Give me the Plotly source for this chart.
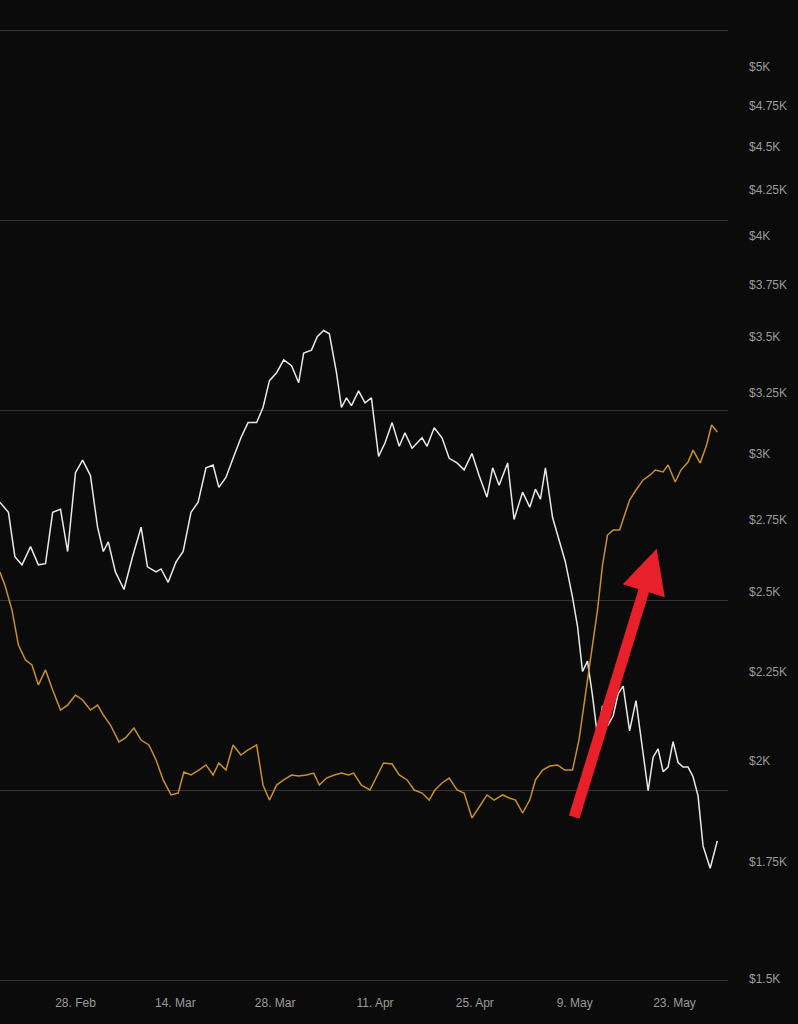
import plotly.graph_objects as go
import pandas as pd
import numpy as np

price = [2813,2776,2618,2590,2653,2590,2594,2776,2787,2636,2925,2974,2914,2722,2636,2670,2566,2507,2618,2722,
 2583,2566,2576,2531,2600,2636,2776,2813,2944,2955,2869,2907,2981,3063,3125,3125,3188,3303,3338,3395,
 3369,3294,3426,3439,3500,3529,3514,3338,3188,3229,3196,3259,3208,3229,2989,3042,3125,3029,3083,3021,
 3042,3063,3029,3104,3063,2981,2963,2936,3000,2914,2832,2944,2877,2963,2750,2851,2795,2862,2825,2944,
 2757,2670,2600,2481,2388,2250,2281,2179,2065,2150,2094,2122,2185,2207,2080,2165,2023,1922,2009,2031,
 1971,1983,2051,1995,1983,1983,1958,1909,1787,1735,1799]
# days after 28 Feb 2022 for each price point
price_days = [-10.6,-9.4,-8.5,-7.5,-6.3,-5.2,-4.2,-3.2,-2.1,-1.1,0,1.0,2.1,3.1,3.9,4.6,5.6,6.8,8.0,9.2,
 10.1,11.3,12.0,13.0,14.1,15.1,16.2,17.2,18.3,19.3,20.1,21.1,22.1,23.2,24.2,25.4,26.3,27.2,28.2,29.2,
 30.3,31.3,32.0,33.1,33.9,34.8,35.6,36.6,37.3,38.0,38.7,39.7,40.6,41.5,42.5,43.4,44.4,45.4,46.2,47.2,
 47.9,48.6,49.3,50.3,51.4,52.4,53.5,54.5,55.6,56.6,57.7,58.5,59.4,60.6,61.5,62.7,63.7,64.5,65.2,65.9,
 66.9,67.9,68.7,69.7,70.4,71.1,71.8,72.5,73.2,73.9,74.6,75.4,76.1,76.8,77.7,78.6,79.6,80.3,81.0,81.7,
 82.4,83.1,83.8,84.5,85.2,85.9,86.6,87.3,88.0,89.0,90.0]
metric = [2.147,2.079,1.947,1.763,1.684,1.658,1.553,1.632,1.526,1.421,1.447,1.5,1.474,1.421,1.447,1.395,1.342,1.253,1.274,1.326,
 1.263,1.237,1.158,1.053,0.974,0.984,1.095,1.079,1.105,1.132,1.079,1.142,1.105,1.237,1.184,1.211,1.237,1.026,0.947,1.026,
 1.053,1.079,1.074,1.079,1.089,1.026,1.063,1.079,1.089,1.079,1.089,1.026,1.0,1.074,1.142,1.137,1.079,1.053,1.0,0.984,
 0.947,1.0,1.037,1.063,1.0,0.984,0.853,0.921,0.974,0.947,0.974,0.958,0.947,0.879,0.947,1.053,1.105,1.126,1.132,1.105,
 1.105,1.263,1.474,1.684,1.947,2.184,2.342,2.368,2.368,2.447,2.526,2.579,2.632,2.658,2.684,2.674,2.711,2.621,2.684,2.726,
 2.789,2.721,2.816,2.921,2.884]
metric_days = [-10.6,-9.9,-8.9,-8.0,-7.0,-6.1,-5.2,-4.2,-3.2,-2.1,-1.1,0,1.0,2.1,3.1,3.9,4.9,6.1,7.0,8.2,
 9.2,10.3,11.3,12.3,13.4,14.4,15.2,16.2,17.3,18.3,19.3,20.1,21.1,22.1,23.2,24.2,25.4,26.3,27.2,28.2,
 29.2,30.3,31.3,32.4,33.4,34.2,35.2,36.3,37.3,38.3,39.0,40.1,41.3,42.3,43.2,44.4,45.4,46.5,47.5,48.6,
 49.6,50.4,51.4,52.4,53.5,54.5,55.6,56.8,57.7,58.7,59.9,60.8,61.7,62.7,63.7,64.5,65.5,66.5,67.6,68.6,
 69.7,70.6,71.4,72.3,73.2,73.9,74.6,75.4,76.3,77.0,77.7,78.6,79.6,80.6,81.3,82.4,83.1,84.1,84.9,85.9,
 86.6,87.6,88.5,89.2,90.0]
base = pd.Timestamp("2022-02-28")
d_price = [base + pd.Timedelta(days=d) for d in price_days]
d_metric = [base + pd.Timedelta(days=d) for d in metric_days]

ytick_vals = [1500,1750,2000,2250,2500,2750,3000,3250,3500,3750,4000,4250,4500,4750,5000]
ytick_text = ["$1.5K","$1.75K","$2K","$2.25K","$2.5K","$2.75K","$3K","$3.25K","$3.5K","$3.75K","$4K","$4.25K","$4.5K","$4.75K","$5K"]
xtick_vals = ["2022-02-28","2022-03-14","2022-03-28","2022-04-11","2022-04-25","2022-05-09","2022-05-23"]

fig = go.Figure()
fig.add_trace(go.Scatter(x=d_metric, y=metric, yaxis="y2", mode="lines",
                         line=dict(color="#c8902a", width=1.5)))
fig.add_trace(go.Scatter(x=d_price, y=price, mode="lines",
                         line=dict(color="#e8e8e8", width=1.5)))
fig.add_annotation(x=pd.Timestamp("2022-05-20 12:00"), y=2.27, xref="x", yref="y2",
                   ax=-83, ay=270, showarrow=True, arrowhead=2, arrowsize=0.8,
                   arrowwidth=11, arrowcolor="#e8202a", text="")
fig.update_layout(
    width=798, height=1024, margin=dict(l=0, r=70, t=0, b=42),
    paper_bgcolor="#0b0b0b", plot_bgcolor="#0b0b0b", showlegend=False,
    font=dict(family="Liberation Sans", color="#9a9a9a", size=12),
    xaxis=dict(range=["2022-02-17 10:00","2022-05-30 12:00"], tickvals=xtick_vals,
               tickformat="%-d. %b", showgrid=False, zeroline=False, showline=False, ticks="",
               ticklabelstandoff=12),
    yaxis=dict(type="log", range=[np.log10(1500)-0.002, np.log10(5460)], side="right",
               tickvals=ytick_vals, ticktext=ytick_text, showgrid=False, zeroline=False,
               ticklabelstandoff=20),
    yaxis2=dict(overlaying="y", range=[-0.0105, 5.158], dtick=1, tick0=0, showticklabels=False,
                showgrid=True, gridcolor="#333333", gridwidth=1, zeroline=False),
)
fig.write_html("out.html", config={"displayModeBar": False},
               post_script="document.body.style.margin='0';document.body.style.background='#0b0b0b';")
